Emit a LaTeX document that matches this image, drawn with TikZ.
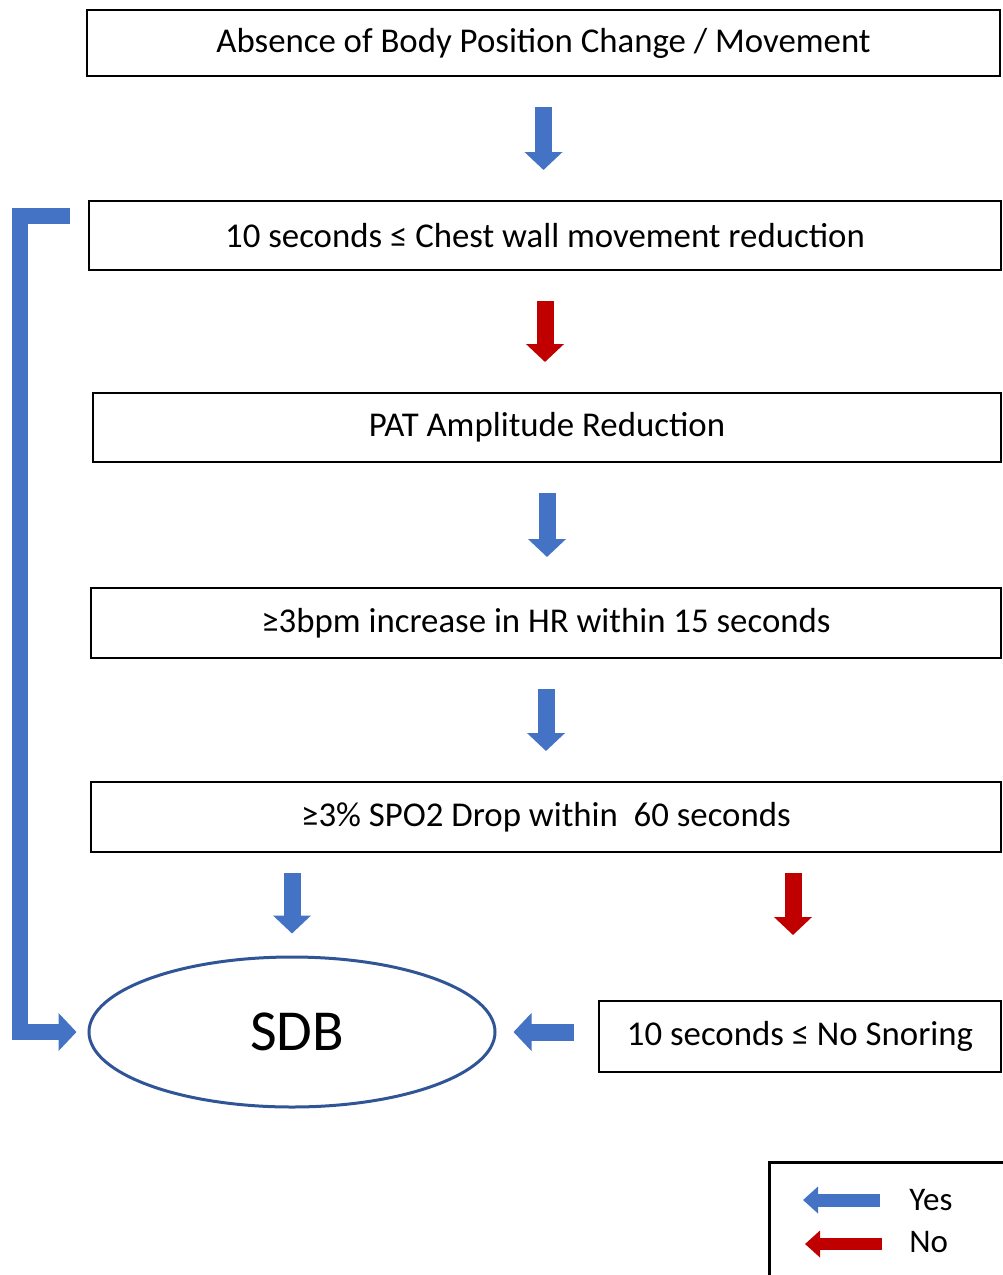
\documentclass[tikz,border=0pt]{standalone}
\usepackage{fontspec}
\setmainfont{Carlito}
\usetikzlibrary{arrows.meta,shapes.geometric}
\definecolor{yesblue}{HTML}{4472C4}
\definecolor{nored}{HTML}{C00000}
\definecolor{sdbblue}{HTML}{2F5597}

\begin{document}
\begin{tikzpicture}[x=0.5pt,y=-0.5pt]
            \useasboundingbox (0,0) rectangle (1002,1275);
            \tikzset{StepBox/.style={draw,line width=1pt,inner sep=0pt,font=\fontsize{17.4}{21}\selectfont}};
            \tikzset{YesArrow/.style={draw=yesblue,line width=8.5pt,-{Triangle[width=18.5pt,length=9pt]},shorten <=15pt,shorten >=15pt}};
            \tikzset{NoArrow/.style={YesArrow,draw=nored}};

            % steps
            \node[StepBox,minimum width=456.5pt,minimum height=33pt] (body) at (543.5,43) {Absence of Body Position Change / Movement};
            \node[StepBox,minimum width=456pt,minimum height=34.5pt] (chest) at (545,235.5) {10 seconds ≤ Chest wall movement reduction};
            \node[StepBox,minimum width=454pt,minimum height=34.5pt] (pat) at (547,427.5) {PAT Amplitude Reduction};
            \node[StepBox,minimum width=455pt,minimum height=35pt] (hr) at (546,623) {≥3bpm increase in HR within 15 seconds};
            \node[StepBox,minimum width=455pt,minimum height=35pt] (spo) at (546,817) {≥3\% SPO2 Drop within\ \ 60 seconds};
            \node[StepBox,minimum width=201pt,minimum height=35.5pt] (snore) at (800,1036.5) {10 seconds ≤ No Snoring};
            \node[ellipse,draw=sdbblue,line width=1.5pt,minimum width=203pt,minimum height=75pt,inner sep=0pt,font=\fontsize{29}{34}\selectfont] (sdb) at (292,1032) {\hspace*{5pt}SDB};

            % yes / no
            \draw[YesArrow] (body.south) -- (body.south |- chest.north);
            \draw[NoArrow] (chest.south) -- (chest.south |- pat.north);
            \draw[YesArrow] (pat.south) -- (pat.south |- hr.north);
            \draw[YesArrow] (hr.south) -- (hr.south |- spo.north);
            \draw[YesArrow,shorten <=10pt,shorten >=11pt] (spo.south -| sdb) -- (sdb.north);
            \draw[NoArrow,shorten <=10pt,shorten >=33pt] (spo.south -| 793,0) -- (793,1001);
            \draw[YesArrow,shorten <=12pt,shorten >=8.5pt] (snore.west |- sdb) -- (sdb.east);

            \coordinate (loop) at (70,216);
            \coordinate (corner) at (20,1032);
            \draw[YesArrow,line width=8pt,shorten <=0pt,shorten >=5.5pt] (loop) -| (corner) -- (sdb.west);

            % legend
            \draw[line width=1.5pt] (769,1162) rectangle (1012,1290);
            \coordinate (ya) at (880,1200);
            \coordinate (yb) at (803,1200);
            \coordinate (na) at (882,1244);
            \coordinate (nb) at (805,1244);
            \draw[yesblue,line width=6.5pt,-{Triangle[width=13pt,length=7.5pt]}] (ya) -- (yb);
            \draw[nored,line width=6pt,-{Triangle[width=13pt,length=7.5pt]}] (na) -- (nb);
            \node[anchor=west,inner sep=0pt,font=\fontsize{16.5}{20}\selectfont] (yes) at (909,1200) {Yes};
            \node[anchor=west,inner sep=0pt,font=\fontsize{16.5}{20}\selectfont] (no) at (909,1242) {No};
\end{tikzpicture}
\end{document}
